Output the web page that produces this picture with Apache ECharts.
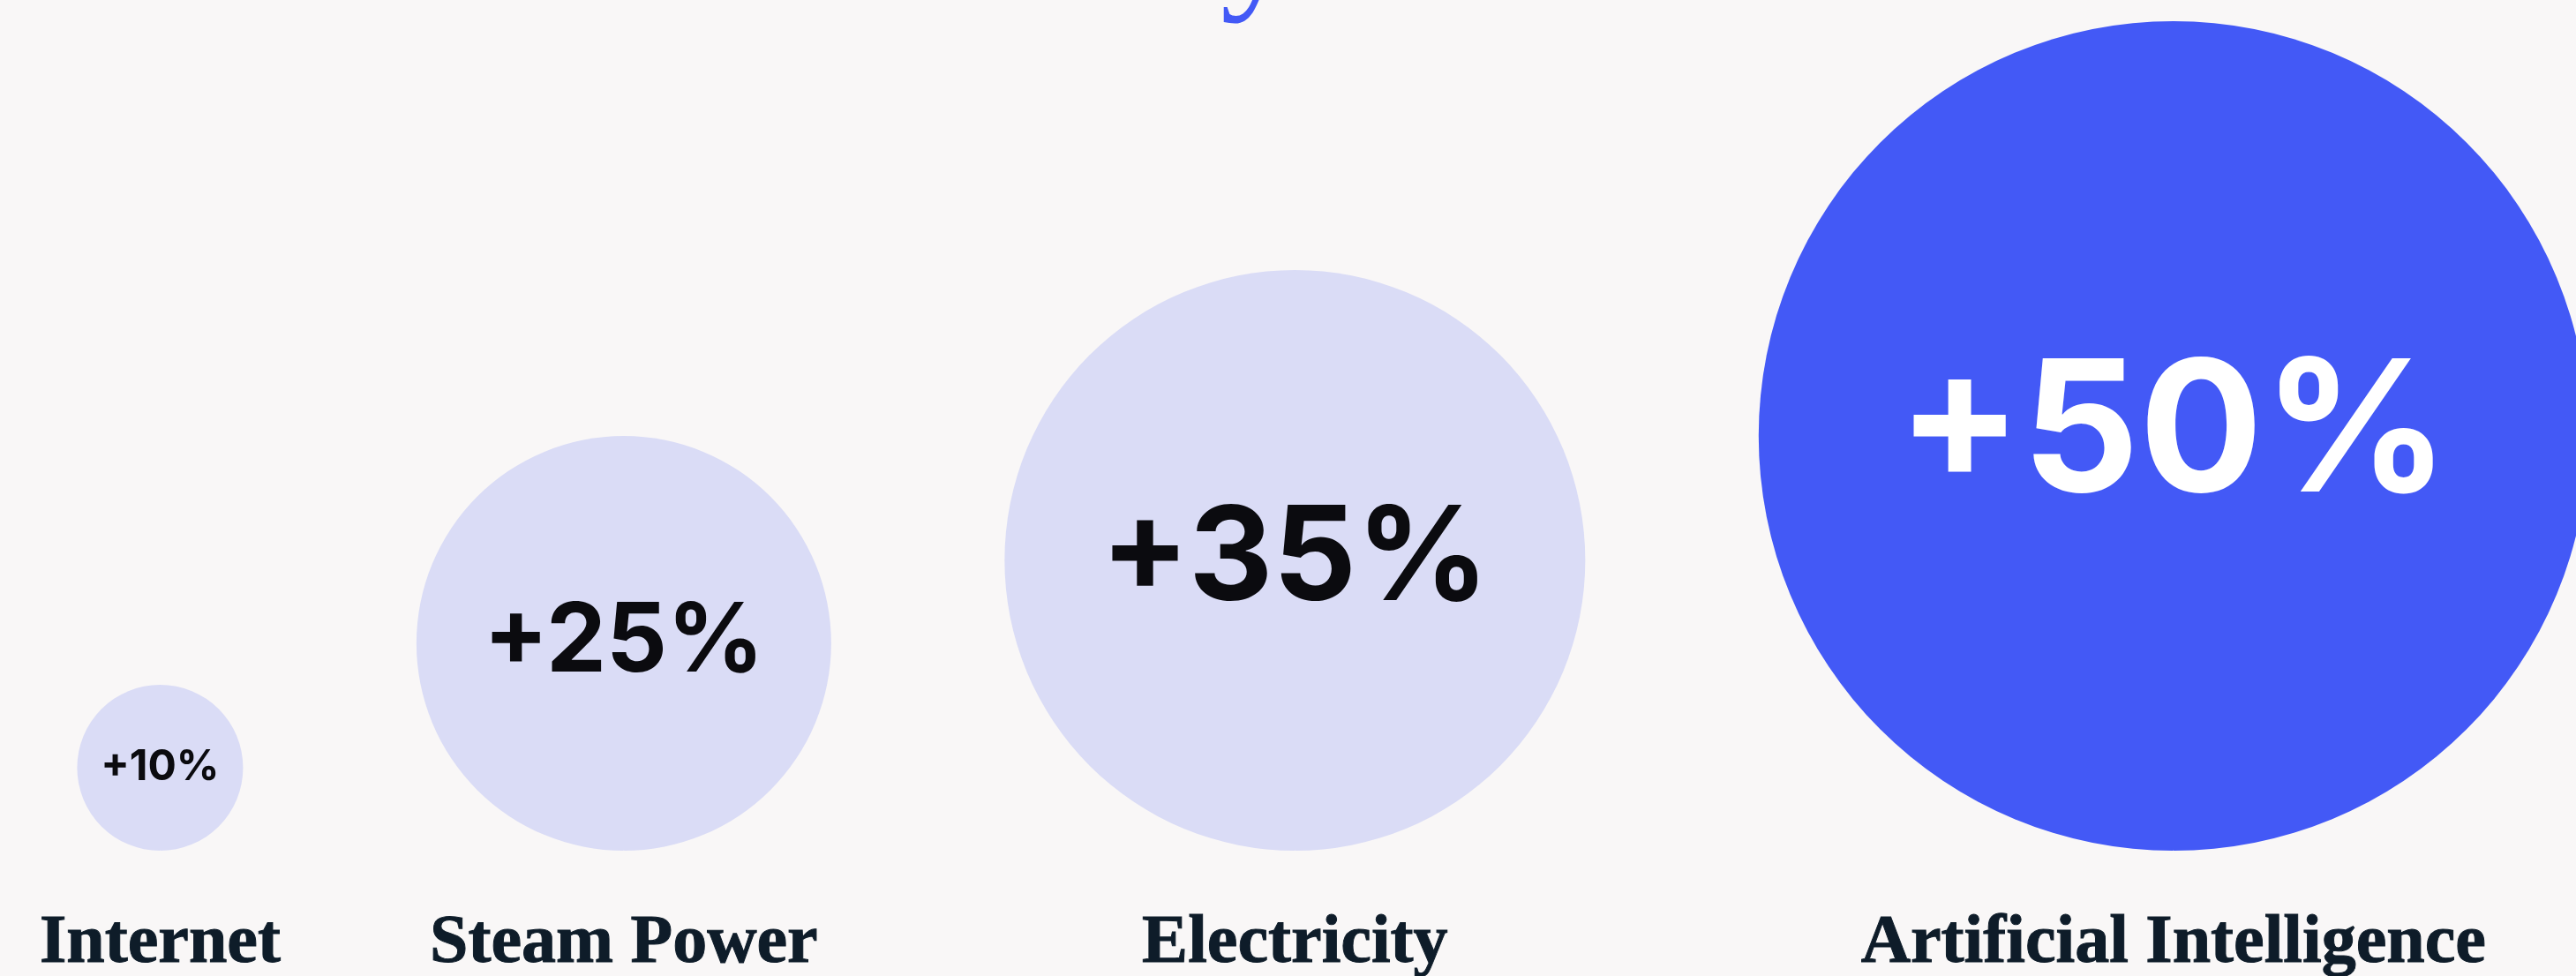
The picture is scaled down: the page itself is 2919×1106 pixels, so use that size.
<!DOCTYPE html>
<html>
<head>
<meta charset="utf-8">
<title>Productivity boost by technology</title>
<script src="https://cdn.jsdelivr.net/npm/echarts@6/dist/echarts.min.js"></script>
<style>
  html, body { margin: 0; padding: 0; background: #f9f7f7; }
  #chart { width: 2919px; height: 1106px; }
</style>
</head>
<body>
<div id="chart"></div>
<script>
// Technologies and their estimated productivity gain (percent)
const technologies = ['Internet', 'Steam Power', 'Electricity', 'Artificial Intelligence'];
const gains = [10, 25, 35, 50];
const highlight = ['Artificial Intelligence'];

const W = 2919, H = 1106;
const baseline = 964;          // circles sit on a common floor
const yMax = 100;              // axis units; one unit = one unit of radius
const gridTop = 24;
const pxPerUnit = (baseline - gridTop) / yMax;
const xMax = W / pxPerUnit;

// Lay circles side by side along the floor, radius = gain (in axis units)
const leftPad = 9.3, gap = 20.9;
let cursor = leftPad;
const circles = gains.map((g, i) => {
  const cx = cursor + g;
  cursor += 2 * g + gap;
  return { name: technologies[i], value: [cx, g] };
});

const chart = echarts.init(document.getElementById('chart'), null, { renderer: 'canvas' });

chart.setOption({
  backgroundColor: '#f9f7f7',
  animation: false,
  grid: { left: 0, right: 0, top: gridTop, bottom: H - baseline },
  xAxis: { type: 'value', min: 0, max: xMax, show: false },
  yAxis: { type: 'value', min: 0, max: yMax, show: false },
  graphic: [{
    // descender of the heading sitting just above the frame
    type: 'text',
    left: 1383,
    top: -140,
    style: {
      text: 'y',
      font: '170px "Liberation Serif"',
      fill: '#4359f6'
    },
    silent: true
  }],
  series: [
    {
      type: 'scatter',
      data: circles.map(c => {
        const hot = highlight.includes(c.name);
        const g = c.value[1];
        return {
          name: c.name,
          value: c.value,
          symbolSize: 2 * g * pxPerUnit,
          itemStyle: { color: hot ? '#4359f6' : '#dadcf6', opacity: 1 },
          label: {
            color: hot ? '#ffffff' : '#0b0b0f',
            fontSize: Math.round(g * 4.0 + 8)
          }
        };
      }),
      label: {
        show: true,
        position: 'inside',
        fontFamily: 'Inter',
        fontWeight: 700,
        formatter: p => '+' + p.value[1] + '%'
      },
      emphasis: { disabled: true }
    },
    {
      type: 'scatter',
      data: circles.map(c => ({ name: c.name, value: [c.value[0], 0] })),
      symbolSize: 1,
      itemStyle: { color: '#f9f7f7', opacity: 1 },
      clip: false,
      label: {
        show: true,
        position: 'bottom',
        distance: 66,
        formatter: p => p.name,
        fontFamily: '"Liberation Serif"',
        fontWeight: 'bold',
        fontSize: 78,
        lineHeight: 78,
        color: '#0e1c29',
        textBorderColor: '#0e1c29',
        textBorderWidth: 1
      },
      labelLayout: { hideOverlap: false },
      emphasis: { disabled: true }
    }
  ]
});
</script>
</body>
</html>
